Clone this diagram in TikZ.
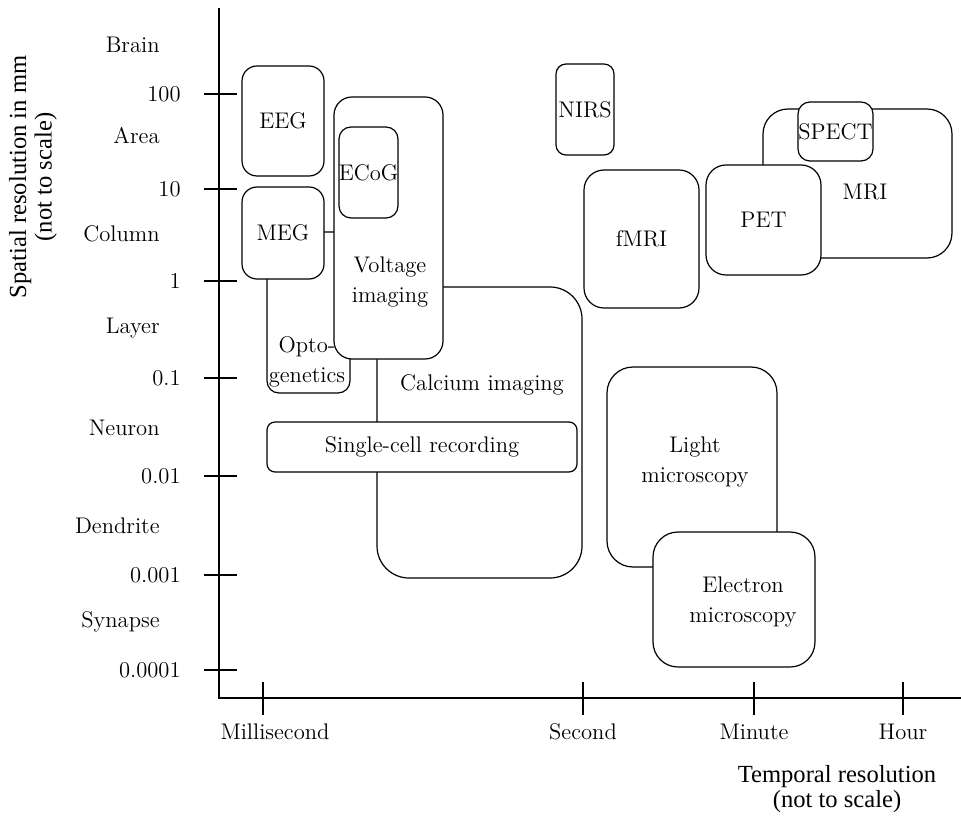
\documentclass[tikz,border=0pt]{standalone}
\usepackage{fontspec}
\newfontfamily\titlefont{Liberation Serif}
\usepackage{tikz}
\usetikzlibrary{fit}

\begin{document}
\begin{tikzpicture}[x=0.5pt, y=-0.5pt, font=\fontsize{11.3}{15}\selectfont,
	tech/.style={draw, fill=white, line width=0.6pt, inner sep=0pt, rounded corners=#1},
	tech/.default=7pt,
	axistitle/.style={font=\titlefont\fontsize{12.3}{12.8}\selectfont, align=center}]
		\useasboundingbox (0,0) rectangle (961,817);
		
		% axes
		\draw[line width=0.6pt] (219,8) -- (219,698) -- (961,698);
		\foreach \yy/\val [count=\i] in {94/100, 189/10, 281/1, 378/0.1, 476/0.01, 575/0.001, 670/0.0001} {
			\draw[line width=0.6pt] (204,\yy) -- (237,\yy);
			\node[anchor=east, inner sep=0pt] (size\i) at (181,\yy) {\val};
		}
		\foreach \yy/\cat in {45/Brain, 136/Area, 234/Column, 328/Layer, 428/Neuron, 526/Dendrite, 622/Synapse}
			\node[anchor=east, inner sep=0pt] (\cat) at (160,\yy) {\cat};
		\foreach \xx/\lx/\tm in {263/275/Millisecond, 583/583/Second, 754/754/Minute, 903/903/Hour} {
			\draw[line width=0.6pt] (\xx,682) -- (\xx,715);
			\node (\tm) at (\lx,732) {\tm};
		}
		\node[axistitle, rotate=90] (ytitle) at (33,177) {Spatial resolution in mm\\(not to scale)};
		\node[axistitle] (xtitle) at (837,789) {Temporal resolution\\(not to scale)};
		
		% methods, back to front
		\node[tech=6pt, fit={(267,232) (350,393)}] (opto) {};
		\node[tech=7.5pt, fit={(242,66) (324,176)}, label=center:EEG] (eeg) {};
		\node[tech=7.5pt, fit={(242,187) (324,279)}, label=center:MEG] (meg) {};
		\node[tech=16pt, fit={(377,287) (582,578)}] (calcium) {};
		\node[tech=9pt, fit={(334,97) (443,359)}] (voltage) {};
		\node[tech=6pt, fit={(339,127) (398,218)}, label=center:ECoG] (ecog) {};
		\node[tech=4pt, fit={(267,422) (577,472)}, label=center:Single-cell recording] (single) {};
		
		\node[tech=5pt, fit={(556,64) (614,155)}, label=center:NIRS] (nirs) {};
		\node[tech=10pt, fit={(584,170) (699,308)}, label=center:fMRI] (fmri) {};
		\node[tech=12.5pt, fit={(763,109) (952,258)}] (mri) {};
		\node[tech=6pt, fit={(798,102) (873,161)}, label=center:SPECT] (spect) {};
		\node[tech=10pt, fit={(706,165) (821,275)}, label=center:PET] (pet) {};
		\node[tech=13pt, fit={(607,367) (777,567)}] (light) {};
		\node[tech=12.5pt, fit={(653,532) (815,667)}] (electron) {};
		
		% labels that sit off centre
		\node[align=center] (voltlabel) at (390,282) {Voltage\\imaging};
		\node[align=center] (optolabel) at (307,362) {Opto-\\genetics};
		\node (calclabel) at (482,385) {Calcium imaging};
		\node (mrilabel) at (865,192) {MRI};
		\node[align=center] (lightlabel) at (695,462) {Light\\microscopy};
		\node[align=center] (eleclabel) at (743,602) {Electron\\microscopy};
	\end{tikzpicture}
\end{document}
